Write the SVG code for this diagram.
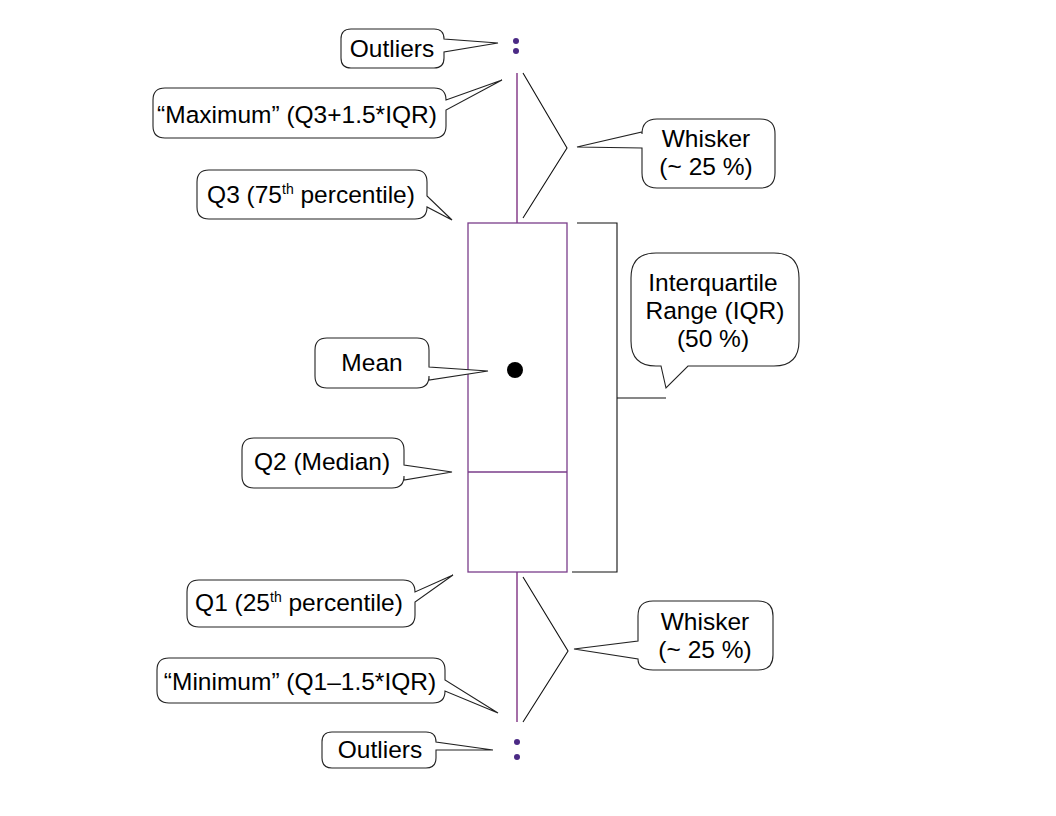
<svg xmlns="http://www.w3.org/2000/svg" width="1056" height="816" viewBox="0 0 1056 816">
<style>
.co{fill:#fff;stroke:#222;stroke-width:1.1}
.t{font-family:"Liberation Sans",Arial,sans-serif;font-size:24.5px;fill:#000}
.m{text-anchor:middle}
.sup{font-size:14px}
.wh{stroke:#a56fa8;stroke-width:2;fill:none}
.br{stroke:#111;stroke-width:1.1;fill:none}
.od{fill:#4b2a85}
</style>
<rect width="1056" height="816" fill="#fff"/>
<g id="boxplot">
<line class="wh" x1="517" y1="73" x2="517" y2="223"/>
<line class="wh" x1="517" y1="572" x2="517" y2="722"/>
<rect x="468" y="223" width="99" height="349" fill="#fff" stroke="#7a3d8a" stroke-width="1.3"/>
<line x1="468" y1="472" x2="567" y2="472" stroke="#7a3d8a" stroke-width="1.3"/>
<circle cx="515" cy="370" r="8" fill="#000"/>
<circle class="od" cx="516" cy="41" r="3"/>
<circle class="od" cx="516" cy="51" r="3"/>
<circle class="od" cx="517" cy="742" r="3"/>
<circle class="od" cx="517" cy="757" r="3"/>
</g>
<g id="connectors">
<path class="br" d="M523,73 L567,148 L523,218"/>
<path class="br" d="M523,577 L568,651 L523,722"/>
<path class="br" d="M577,223 H617 V572 H572"/>
<path class="br" d="M617,398 H666"/>
</g>
<g id="outliers-top">
<path class="co" d="M351,29 H434 Q444,29 444,39 L498,43 L444,52 V58 Q444,68 434,68 H351 Q341,68 341,58 V39 Q341,29 351,29 Z"/>
<text class="t m" x="392" y="57">Outliers</text>
</g>
<g id="maximum">
<path class="co" d="M165,88 H434 Q446,88 446,100 L502,80 L446,110 V126 Q446,138 434,138 H165 Q153,138 153,126 V100 Q153,88 165,88 Z"/>
<text class="t m" x="297" y="123">“Maximum” (Q3+1.5*IQR)</text>
</g>
<g id="q3">
<path class="co" d="M209,170 H415 Q427,170 427,182 V196 L452,220 L427,207 Q427,219 415,219 H209 Q197,219 197,207 V182 Q197,170 209,170 Z"/>
<text class="t m" x="311" y="203">Q3 (75<tspan class="sup" dy="-9">th</tspan><tspan dy="9"> percentile)</tspan></text>
</g>
<g id="mean">
<path class="co" d="M327,338 H417 Q429,338 429,350 V367 L488,371 L429,380 V376 Q429,388 417,388 H327 Q315,388 315,376 V350 Q315,338 327,338 Z"/>
<text class="t m" x="372" y="371">Mean</text>
</g>
<g id="q2">
<path class="co" d="M254,438 H392 Q404,438 404,450 V465 L452,472 L404,480 V476 Q404,488 392,488 H254 Q242,488 242,476 V450 Q242,438 254,438 Z"/>
<text class="t m" x="322" y="470">Q2 (Median)</text>
</g>
<g id="q1">
<path class="co" d="M199,580 H403 Q415,580 415,592 L453,575 L415,602 V615 Q415,627 403,627 H199 Q187,627 187,615 V592 Q187,580 199,580 Z"/>
<text class="t m" x="299" y="611">Q1 (25<tspan class="sup" dy="-9">th</tspan><tspan dy="9"> percentile)</tspan></text>
</g>
<g id="minimum">
<path class="co" d="M169,658 H433 Q445,658 445,670 V680 L498,713 L445,691 Q445,703 433,703 H169 Q157,703 157,691 V670 Q157,658 169,658 Z"/>
<text class="t m" x="300" y="690">“Minimum” (Q1–1.5*IQR)</text>
</g>
<g id="outliers-bottom">
<path class="co" d="M332,732 H426 Q436,732 436,742 L493,750 L436,750 V758 Q436,768 426,768 H332 Q322,768 322,758 V742 Q322,732 332,732 Z"/>
<text class="t m" x="380" y="758">Outliers</text>
</g>
<g id="whisker-top">
<path class="co" d="M657,119 H760 Q775,119 775,134 V173 Q775,188 760,188 H657 Q642,188 642,173 V148 L577,147 L642,132 V134 Q642,119 657,119 Z"/>
<text class="t m" x="706" y="147">Whisker</text>
<text class="t m" x="706" y="175">(~ 25 %)</text>
</g>
<g id="whisker-bottom">
<path class="co" d="M653,601 H758 Q773,601 773,616 V655 Q773,670 758,670 H653 Q638,670 638,659 L574,649 L638,641 V616 Q638,601 653,601 Z"/>
<text class="t m" x="705" y="630">Whisker</text>
<text class="t m" x="705" y="658">(~ 25 %)</text>
</g>
<g id="iqr">
<path class="co" d="M656,253 H774 Q799,253 799,278 V341 Q799,366 774,366 H688 L666,388 L661,366 H656 Q631,366 631,341 V278 Q631,253 656,253 Z"/>
<text class="t m" x="713" y="291">Interquartile</text>
<text class="t m" x="715" y="319">Range (IQR)</text>
<text class="t m" x="713" y="347">(50 %)</text>
</g>
</svg>
